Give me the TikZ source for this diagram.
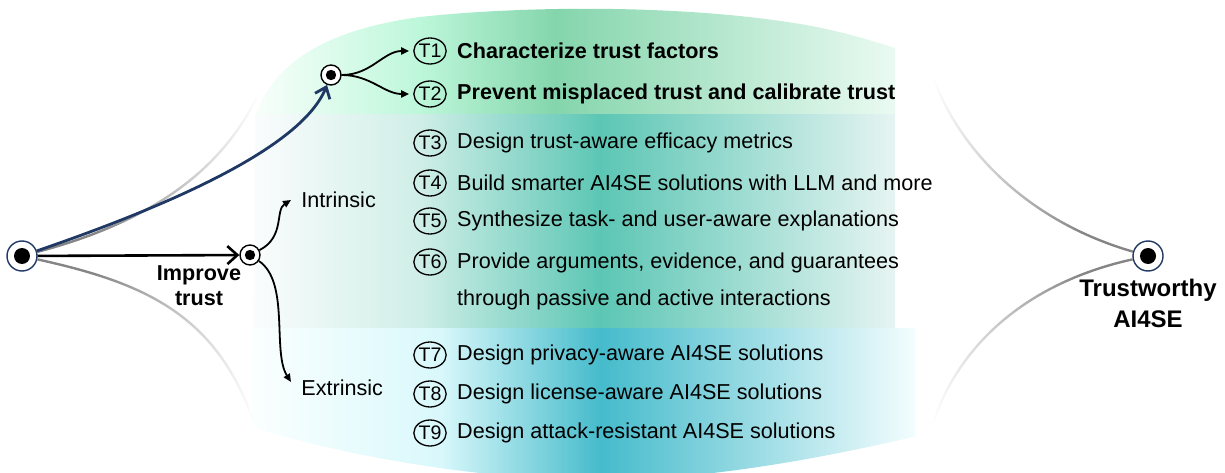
\documentclass[tikz,border=0pt]{standalone}
\usepackage{fontspec}
\setmainfont{Liberation Sans}
\usetikzlibrary{arrows.meta,positioning,fadings,shapes.geometric}

\definecolor{navyblue}{HTML}{1F3864}
\definecolor{fadegrey}{HTML}{858585}
\definecolor{mintpale}{HTML}{FAFFFC}
\definecolor{mintlight}{HTML}{BDF7DA}
\definecolor{mintdark}{HTML}{84D5AC}
\definecolor{mintend}{HTML}{EAFAF2}
\definecolor{tealpale}{HTML}{FBFDFD}
\definecolor{teallight}{HTML}{CFEEE7}
\definecolor{tealdark}{HTML}{5CC6B4}
\definecolor{tealend}{HTML}{E6F4F2}
\definecolor{cyanpale}{HTML}{FBFFFF}
\definecolor{cyanlight}{HTML}{D9F8FB}
\definecolor{cyandark}{HTML}{45BBCB}
\definecolor{cyanend}{HTML}{F3FDFE}

% opaque near the hub, fading out towards the far end
\begin{tikzfadingfrompicture}[name=fade right]
  \fill[transparent!0] (-50bp,-50bp) rectangle (-12bp,50bp);
  \shade[left color=transparent!0, right color=transparent!100] (-12bp,-50bp) rectangle (25bp,50bp);
  \fill[transparent!100] (25bp,-50bp) rectangle (50bp,50bp);
\end{tikzfadingfrompicture}
\begin{tikzfadingfrompicture}[name=fade left]
  \fill[transparent!100] (-50bp,-50bp) rectangle (-25bp,50bp);
  \shade[left color=transparent!100, right color=transparent!0] (-25bp,-50bp) rectangle (12bp,50bp);
  \fill[transparent!0] (12bp,-50bp) rectangle (50bp,50bp);
\end{tikzfadingfrompicture}

\tikzset{
  hub/.style={circle, draw=navyblue, fill=white, line width=0.7pt, minimum size=15pt, inner sep=0pt,
    path picture={\fill[black] (path picture bounding box.center) circle (4pt);}},
  subhub/.style={circle, draw=black, fill=white, line width=0.7pt, minimum size=10pt, inner sep=0pt,
    path picture={\fill[black] (path picture bounding box.center) circle (2.6pt);}},
  tag/.style={ellipse, draw, line width=0.65pt, minimum width=15.5pt, minimum height=13pt, inner sep=0pt,
    font=\fontsize{9.8}{9.8}\selectfont},
  item/.style={anchor=west, inner sep=0pt, font=\fontsize{10.8}{12}\selectfont},
  keyitem/.style={item, font=\fontsize{10.8}{12}\selectfont\bfseries},
  branch/.style={anchor=west, inner sep=5pt, font=\fontsize{10.8}{12}\selectfont},
  fadeline/.style={draw=fadegrey, line width=1.2pt},
  twig/.style={-{Triangle[length=4pt,width=3.5pt]}, line width=0.9pt},
}

\begin{document}
\begin{tikzpicture}[x=0.5pt, y=0.5pt]
\useasboundingbox (0,0) rectangle (1225,472);

% background bands
\begin{scope}
\clip (252,45) -- (255,357) .. controls (272,400) and (310,440) .. (420,455)
  .. controls (520,466) and (680,468) .. (800,448) .. controls (850,440) and (890,425) .. (935,412)
  -- (935,40) .. controls (850,20) and (720,-8) .. (600,-8) .. controls (470,-8) and (330,20) .. (252,45) -- cycle;
\shade[left color=mintpale, right color=mintlight] (250,357) rectangle (421,480);
\shade[left color=mintlight, right color=mintdark] (420,357) rectangle (556,480);
\shade[left color=mintdark, right color=mintend] (555,357) rectangle (895,480);
\shade[left color=tealpale, right color=teallight] (250,144) rectangle (421,357);
\shade[left color=teallight, right color=tealdark] (420,144) rectangle (601,357);
\shade[left color=tealdark, right color=tealend] (600,144) rectangle (895,357);
\shade[left color=cyanpale, right color=cyanlight] (250,-10) rectangle (441,144);
\shade[left color=cyanlight, right color=cyandark] (440,-10) rectangle (601,144);
\shade[left color=cyandark, right color=cyanend] (600,-10) rectangle (915,144);
\end{scope}

\node[hub] (root) at (22,216) {};
\node[subhub] (imp) at (250,217) {};
\node[subhub] (top) at (331,397) {};
\node[hub] (tw) at (1148,216) {};

\coordinate (ul) at (257,375);
\coordinate (ll) at (253,52);
\coordinate (ur) at (933,395);
\coordinate (lr) at (933,49);

% grey outline of the lens
\draw[fadeline, path fading=fade right] (root) .. controls (150,250) and (220,300) .. (ul);
\draw[fadeline, path fading=fade right] (root) .. controls (140,190) and (215,160) .. (ll);
\draw[fadeline, path fading=fade left] (tw) .. controls (1030,250) and (960,320) .. (ur);
\draw[fadeline, path fading=fade left] (tw) .. controls (1030,190) and (960,130) .. (lr);

\node[branch] (intr) at (291,272) {Intrinsic};
\node[branch] (extr) at (291,84) {Extrinsic};
\node[align=center, font=\fontsize{10.8}{12.5}\selectfont\bfseries] (improve) at (199,186) {Improve\\trust};
\node[align=center, font=\fontsize{12}{15.5}\selectfont\bfseries, below=0pt of tw] (twlab) {Trustworthy\\AI4SE};

\draw[line width=1.3pt, -{Straight Barb[length=5pt,width=9pt]}] (root) -- (imp);
\draw[navyblue, line width=1.4pt, -{Straight Barb[length=5pt,width=8pt]}] (root) .. controls (150,260) and (300,320) .. (top);
\draw[twig] (imp) .. controls (285,235) and (275,262) .. (intr.west);
\draw[twig] (imp) .. controls (290,190) and (272,120) .. ([yshift=3pt]extr.west);

\foreach \i/\y in {1/421,2/378,3/329,4/289,5/251,6/210,7/117,8/78,9/39}
  \node[tag] (t\i) at (430,\y) {T\i};

\draw[twig, shorten >=2pt] (top) to[out=0,in=180] (t1);
\draw[twig, shorten >=2pt] (top) to[out=0,in=180] (t2);

\node[keyitem, right=5pt of t1] (d1) {Characterize trust factors};
\node[keyitem, right=5pt of t2] (d2) {Prevent misplaced trust and calibrate trust};
\node[item, right=5pt of t3] (d3) {Design trust-aware efficacy metrics};
\node[item, right=5pt of t4] (d4) {Build smarter AI4SE solutions with LLM and more};
\node[item, right=5pt of t5] (d5) {Synthesize task- and user-aware explanations};
\node[item, align=left, anchor=north west, font=\fontsize{10.8}{18.5}\selectfont] (d6)
  at ([xshift=5pt, yshift=5pt]t6.east) {Provide arguments, evidence, and guarantees\\through passive and active interactions};
\node[item, right=5pt of t7] (d7) {Design privacy-aware AI4SE solutions};
\node[item, right=5pt of t8] (d8) {Design license-aware AI4SE solutions};
\node[item, right=5pt of t9] (d9) {Design attack-resistant AI4SE solutions};
\end{tikzpicture}
\end{document}
